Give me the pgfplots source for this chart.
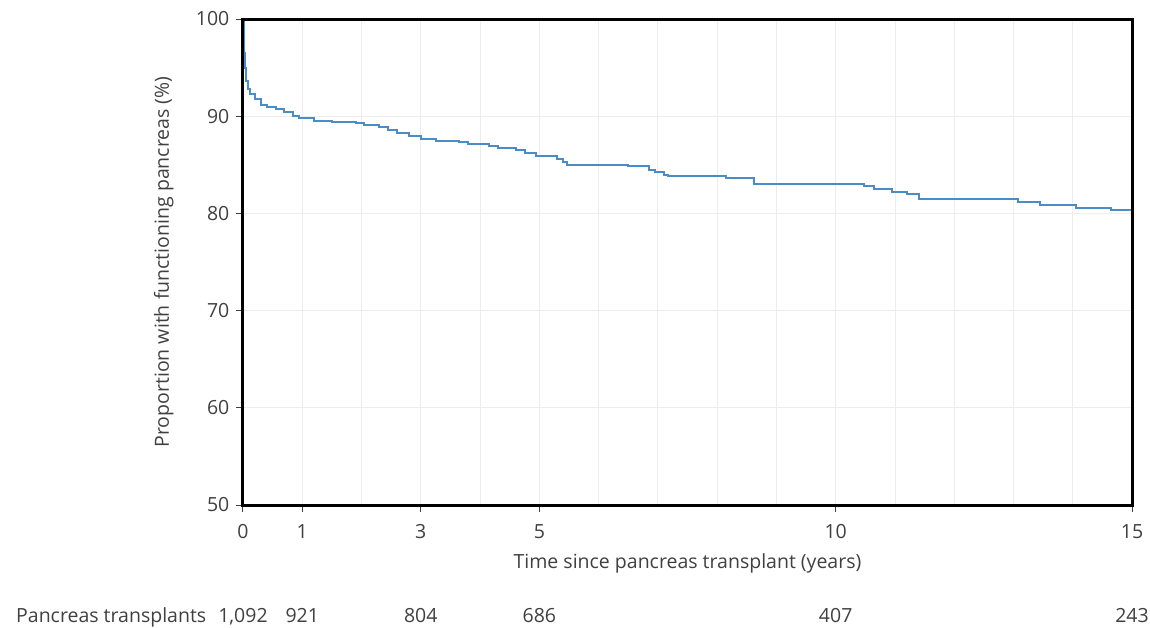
\documentclass[border=0pt]{standalone}
\usepackage{pgfplots}
\pgfplotsset{compat=1.18}
\usepackage{fontspec}
\setmainfont{Open Sans}
\definecolor{txt}{HTML}{404040}
\definecolor{curve}{HTML}{4A8CC8}
\definecolor{gridc}{HTML}{EDEDED}
\begin{document}
\fontsize{19.5bp}{23bp}\selectfont
\begin{tikzpicture}
\useasboundingbox (-243bp,-123bp) rectangle (907bp,505bp);
\begin{axis}[
  at={(0,0)}, anchor=south west,
  scale only axis,
  width=889bp, height=486bp,
  xmin=0, xmax=15, ymin=50, ymax=100,
  xtick={0,1,3,5,10,15},
  minor xtick={0,1,...,15},
  ytick={50,60,...,100},
  xtick pos=bottom, ytick pos=left,
  grid=both,
  major grid style={gridc, line width=0.8bp},
  minor grid style={gridc, line width=0.8bp},
  axis line style={black, line width=3bp},
  tick align=outside,
  major tick length=7bp,
  minor tick length=0bp,
  tick style={txt, line width=1bp},
  every tick label/.append style={font=\fontsize{19.5bp}{23bp}\selectfont, text=txt},
  xticklabel style={yshift=-6bp},
  /pgf/number format/assume math mode=true,
  xlabel={Time since pancreas transplant (years)},
  ylabel={Proportion with functioning pancreas (\%)},
  xlabel style={at={(axis description cs:0.5,-0.1193)}, anchor=center, text=txt},
  ylabel style={at={(axis description cs:-0.0890,0.5)}, anchor=center, rotate=0, text=txt},
  clip=false,
]
\addplot[const plot, curve, line width=2bp] coordinates {
(0,100) (0.01,98) (0.02,96.5) (0.03,95) (0.05,93.6) (0.08,92.8) (0.12,92.3)
(0.2,91.8) (0.3,91.2) (0.4,90.9) (0.55,90.7) (0.7,90.4) (0.85,90.0) (0.95,89.8)
(1.2,89.5) (1.5,89.4) (1.9,89.3) (2.05,89.1) (2.3,88.9) (2.45,88.6) (2.6,88.3)
(2.8,88.0) (3.0,87.7) (3.25,87.5) (3.65,87.3) (3.8,87.1) (4.15,86.9) (4.3,86.7)
(4.6,86.5) (4.75,86.2) (4.95,85.9) (5.3,85.6) (5.4,85.3) (5.47,85.0) (6.5,84.9)
(6.85,84.5) (6.95,84.3) (7.1,84.0) (7.17,83.8) (8.15,83.6) (8.63,83.0) (10.48,82.8)
(10.65,82.5) (10.95,82.2) (11.2,82.0) (11.4,81.5) (13.08,81.2) (13.45,80.9)
(14.05,80.6) (14.65,80.3) (15,80.3)
};
\draw[black, line width=3bp] (rel axis cs:0,0) rectangle (rel axis cs:1,1);
\node[anchor=base west, text=txt] at (axis cs:-3.94,37.96) {Pancreas transplants};
\node[anchor=base, text=txt] at (axis cs:0,37.96) {1,092};
\node[anchor=base, text=txt] at (axis cs:1,37.96) {921};
\node[anchor=base, text=txt] at (axis cs:3,37.96) {804};
\node[anchor=base, text=txt] at (axis cs:5,37.96) {686};
\node[anchor=base, text=txt] at (axis cs:10,37.96) {407};
\node[anchor=base, text=txt] at (axis cs:15,37.96) {243};
\end{axis}
\end{tikzpicture}
\end{document}
